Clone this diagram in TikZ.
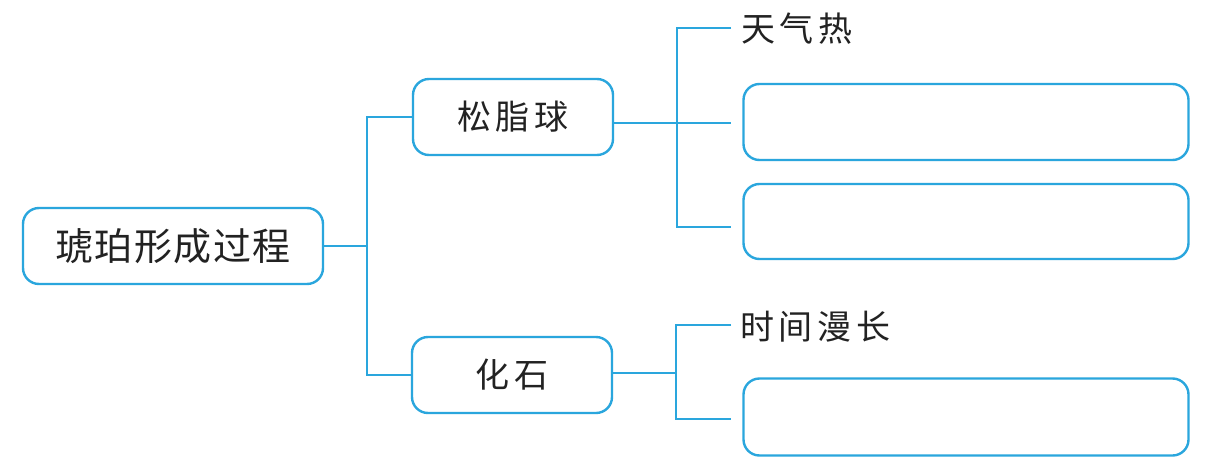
\documentclass[tikz,border=0pt]{standalone}
\usepackage{fontspec}
\newfontfamily\cjkroot{Noto Sans CJK SC}[LetterSpace=4]
\newfontfamily\cjkspaced{Noto Sans CJK SC}[LetterSpace=14]
\definecolor{lineblue}{HTML}{2AA6DD}
\definecolor{inkgray}{HTML}{222222}
\begin{document}
\begin{tikzpicture}[x=1pt,y=-1pt,
  conn/.style={draw=lineblue,line width=2.6pt},
  boxstyle/.style={draw=lineblue,line width=2.4pt,rounded corners=16pt,fill=white,inner sep=0pt},
  roottext/.style={text=inkgray,font=\cjkroot\fontsize{38}{42}\selectfont},
  subtext/.style={text=inkgray,font=\cjkspaced\fontsize{34}{38}\selectfont},
]
\useasboundingbox[fill=white] (0,0) rectangle (1230,463);
% boxes
\node[boxstyle,roottext,minimum width=300pt,minimum height=76pt] (root) at (173,246) {琥珀形成过程};
\node[boxstyle,subtext,minimum width=200pt,minimum height=76pt] (b1) at (513,117) {松脂球};
\node[boxstyle,subtext,minimum width=200pt,minimum height=76pt] (b2) at (512,375) {化石};
\node[subtext,inner sep=0pt,anchor=west] (t1) at (741,29) {天气热};
\node[subtext,inner sep=0pt,anchor=west] (t2) at (740,327) {时间漫长};
\node[boxstyle,minimum width=445pt,minimum height=76pt] (ba) at (966,122) {};
\node[boxstyle,minimum width=445pt,minimum height=75pt] (bb) at (966,221.5) {};
\node[boxstyle,minimum width=445pt,minimum height=77pt] (bc) at (966,417) {};
% junctions
\coordinate (j1) at (367,246);
\coordinate (k1) at (677,123);
\coordinate (kt) at (731,28);
\coordinate (km) at (731,123);
\coordinate (kb) at (731,227);
\coordinate (m1) at (676,373);
\coordinate (mt) at (731,325);
\coordinate (mb) at (731,419);
% connectors
\draw[conn] (root.east) -- (j1);
\draw[conn] (b1.west) -| (j1) |- (b2.west);
\draw[conn] (b1.east |- k1) -- (km);
\draw[conn] (kt) -| (k1) |- (kb);
\draw[conn] (b2.east |- m1) -- (m1);
\draw[conn] (mt) -| (m1) |- (mb);
\end{tikzpicture}
\end{document}
